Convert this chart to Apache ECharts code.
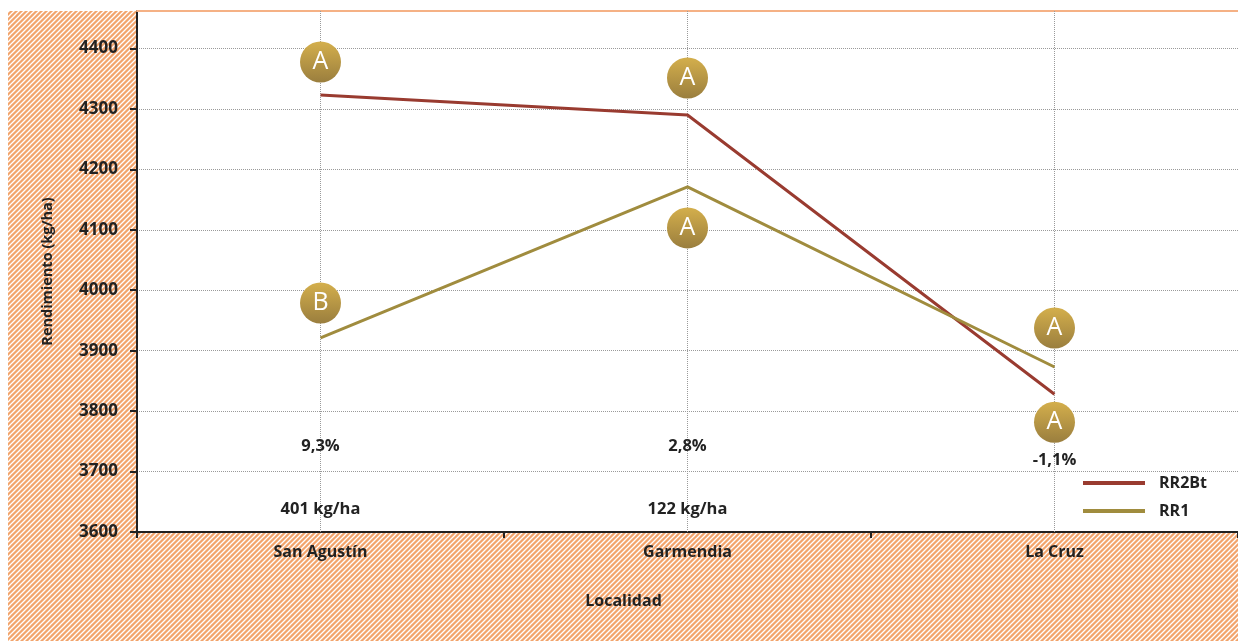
<!DOCTYPE html>
<html>
<head>
<meta charset="utf-8">
<script src="https://cdn.jsdelivr.net/npm/echarts@6/dist/echarts.min.js"></script>
<style>
  html, body { margin: 0; padding: 0; background: #fff; }
  #chart { width: 1238px; height: 641px; }
</style>
</head>
<body>
<div id="chart"></div>
<script>
// datos
const categories = ['San Agustín', 'Garmendia', 'La Cruz'];
const rr2bt = [4323, 4290, 3828];
const rr1 = [3921, 4171, 3873];
const lettersRR2Bt = ['A', 'A', 'A'];
const lettersRR1 = ['B', 'A', 'A'];
const diffPct = ['9,3%', '2,8%', '-1,1%'];
const diffKg = ['401 kg/ha', '122 kg/ha', ''];
const yTicks = [3600, 3700, 3800, 3900, 4000, 4100, 4200, 4300, 4400];

// colores
const colorRR2Bt = '#993B30';
const colorRR1 = '#A08C3E';
const textColor = '#222222';
const gridColor = '#9a9a9a';
const fontFamily = '"Open Sans", "Noto Sans", sans-serif';

// rayado naranja del fondo
const makeHatch = () => {
  const c = document.createElement('canvas');
  const s = 5;
  c.width = s;
  c.height = s;
  const ctx = c.getContext('2d');
  ctx.fillStyle = '#F2A46C';
  ctx.fillRect(0, 0, s, s);
  ctx.strokeStyle = '#ffffff';
  ctx.lineWidth = 1.3;
  ctx.beginPath();
  ctx.moveTo(-1, s + 1); ctx.lineTo(s + 1, -1);
  ctx.moveTo(-1, 1); ctx.lineTo(1, -1);
  ctx.moveTo(s - 1, s + 1); ctx.lineTo(s + 1, s - 1);
  ctx.stroke();
  return c;
};

// desplazamiento de los círculos (px)
const offRR2Bt = [-33, -37, 28];
const offRR1 = [-35, 41, -39];

const circleColor = new echarts.graphic.LinearGradient(0, 0, 0, 1, [
  { offset: 0, color: '#D4AF4C' },
  { offset: 1, color: '#9A7E3E' },
]);

const letterSeries = (name, values, letters, offsets) => ({
  type: 'scatter',
  name: name + '-letras',
  z: 4,
  silent: true,
  symbol: 'circle',
  symbolSize: 41,
  itemStyle: { color: circleColor, opacity: 1 },
  label: {
    show: true,
    position: 'inside',
    color: '#ffffff',
    fontSize: 25,
    fontFamily: fontFamily,
    formatter: (p) => letters[p.dataIndex],
  },
  data: values.map((v, i) => ({
    value: [categories[i], v],
    symbolOffset: [0, offsets[i]],
  })),
});

const annotSeries = (labels, yValue, extraOffset) => ({
  type: 'scatter',
  silent: true,
  symbolSize: 0,
  z: 3,
  itemStyle: { opacity: 1 },
  label: {
    show: true,
    position: 'inside',
    color: textColor,
    fontSize: 16.5,
    fontWeight: 'bold',
    fontFamily: fontFamily,
    formatter: (p) => labels[p.dataIndex],
  },
  data: labels.map((t, i) => ({
    value: [categories[i], yValue],
    label: { offset: [0, extraOffset[i]] },
  })),
});

const myChart = echarts.init(document.getElementById('chart'));

const option = {
  animation: false,
  graphic: [
    {
      type: 'rect',
      z: -10,
      silent: true,
      shape: { x: 8, y: 11, width: 1230, height: 630 },
      style: { fill: { image: makeHatch(), repeat: 'repeat' } },
    },
  ],
  grid: {
    left: 137,
    right: 0,
    top: 11,
    bottom: 109,
    show: true,
    backgroundColor: '#ffffff',
    borderWidth: 0,
  },
  legend: {
    orient: 'vertical',
    left: 1078,
    top: 470,
    icon: 'rect',
    itemWidth: 62,
    itemHeight: 4,
    itemGap: 12,
    selectedMode: false,
    data: ['RR2Bt', 'RR1'],
    textStyle: {
      color: textColor,
      fontSize: 16,
      fontWeight: 'bold',
      fontFamily: fontFamily,
      padding: [0, 0, 0, 9],
    },
  },
  xAxis: [
    {
      type: 'category',
      data: categories,
      boundaryGap: true,
      name: 'Localidad',
      nameLocation: 'middle',
      nameGap: 61,
      nameTextStyle: {
        color: textColor,
        fontSize: 16,
        fontWeight: 'bold',
        fontFamily: fontFamily,
        padding: [0, 128, 0, 0],
      },
      axisLine: { lineStyle: { color: textColor, width: 2 } },
      axisTick: { show: true, length: 6, lineStyle: { color: textColor, width: 2 } },
      axisLabel: {
        color: textColor,
        fontSize: 16,
        fontWeight: 'bold',
        fontFamily: fontFamily,
        margin: 12,
      },
      splitLine: { show: false },
    },
    {
      type: 'category',
      position: 'top',
      data: categories,
      axisLine: { lineStyle: { color: '#F5B185', width: 2 } },
      axisTick: { show: false },
      axisLabel: { show: false },
      splitLine: { show: false },
    },
  ],
  yAxis: {
    type: 'value',
    min: 3600,
    max: 4462,
    interval: 100,
    name: 'Rendimiento (kg/ha)',
    nameLocation: 'middle',
    nameGap: 82,
    nameTextStyle: {
      color: textColor,
      fontSize: 14.5,
      fontWeight: 'bold',
      fontFamily: fontFamily,
    },
    axisLine: { show: true, lineStyle: { color: textColor, width: 2 } },
    axisTick: {
      show: true,
      length: 7,
      customValues: yTicks,
      lineStyle: { color: textColor, width: 2 },
    },
    axisLabel: {
      color: textColor,
      fontSize: 17,
      fontWeight: 'bold',
      fontFamily: fontFamily,
      margin: 19,
      customValues: yTicks,
      formatter: (v) => String(v),
    },
    splitLine: {
      show: true,
      lineStyle: { color: gridColor, type: 'dotted', width: 1 },
    },
  },
  series: [
    {
      name: 'RR2Bt',
      type: 'line',
      data: rr2bt,
      showSymbol: false,
      z: 3,
      lineStyle: { color: colorRR2Bt, width: 3 },
      itemStyle: { color: colorRR2Bt },
      markLine: {
        silent: true,
        symbol: 'none',
        z: 1,
        label: { show: false },
        lineStyle: { color: gridColor, type: 'dotted', width: 1 },
        data: categories.map((c) => ({ xAxis: c })),
      },
    },
    {
      name: 'RR1',
      type: 'line',
      data: rr1,
      showSymbol: false,
      z: 3,
      lineStyle: { color: colorRR1, width: 3 },
      itemStyle: { color: colorRR1 },
    },
    letterSeries('RR2Bt', rr2bt, lettersRR2Bt, offRR2Bt),
    letterSeries('RR1', rr1, lettersRR1, offRR1),
    annotSeries(diffPct, 3742, [0, 0, 14]),
    annotSeries(diffKg, 3638, [0, 0, 0]),
  ],
};

myChart.setOption(option);
</script>
</body>
</html>
